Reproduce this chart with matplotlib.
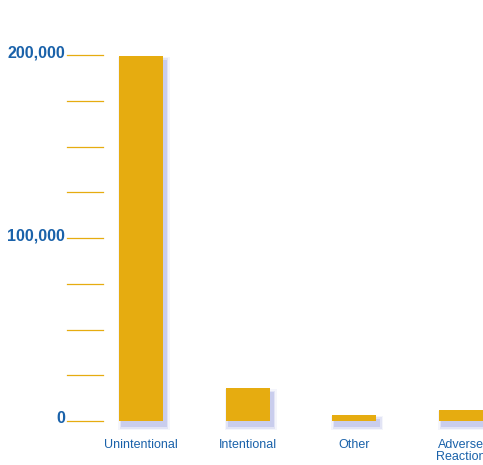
import matplotlib
matplotlib.use("Agg")
import matplotlib.pyplot as plt
from matplotlib.patches import Rectangle

# exposure counts by reason
categories = ["Unintentional", "Intentional", "Other", "Adverse\nReaction"]
counts = [199500, 18000, 3300, 5800]
tick_values = [0, 25000, 50000, 75000, 100000, 125000, 150000, 175000, 200000]
tick_labels = {0: "0", 100000: "100,000", 200000: "200,000"}

W, H = 483, 465
gold = "#e6ac10"
blue = "#1a62aa"

fig = plt.figure(figsize=(W / 100, H / 100), dpi=100)
# axes from px x=67..483, y=20..421 (zero line at 421)
ax = fig.add_axes([67 / W, (H - 421) / H, (W - 67) / W, (421 - 20) / H])
ymax = 200000 * (421 - 20) / 366
ax.set_xlim(-0.694, 3.206)
ax.set_ylim(0, ymax)
ax.axis("off")

px_y = ymax / (421 - 20)   # data units per pixel
px_x = 1 / 106.7
width = 0.41

# soft bluish shadow, then bars
for i, v in enumerate(counts):
    for k, a in zip([8, 5, 2], [0.06, 0.10, 0.16]):
        ax.add_patch(Rectangle((i - width / 2 + 3 * px_x - k * px_x / 2, -5 * px_y - k * px_y / 2),
                               width + k * px_x, v + k * px_y,
                               color="#4a55c8", alpha=a, lw=0, clip_on=False, zorder=1))
ax.bar(range(len(counts)), counts, width=width, color=gold, zorder=3)

# gold tick lines on the left
for t in tick_values:
    ax.axhline(t, xmin=0, xmax=36 / (W - 67), color=gold, lw=0.9, zorder=2, clip_on=False)
    if t in tick_labels:
        ax.text(-0.694 - 2 * px_x, t - 2 * px_y, tick_labels[t], ha="right", va="baseline",
                color=blue, fontsize=11.5, fontweight="bold", family="Liberation Sans",
                clip_on=False)

for i, c in enumerate(categories):
    ax.text(i, -18 * px_y, c, ha="center", va="top", color=blue, fontsize=9,
            family="Liberation Sans", linespacing=0.95, clip_on=False)

fig.savefig("out.png", dpi=100)
